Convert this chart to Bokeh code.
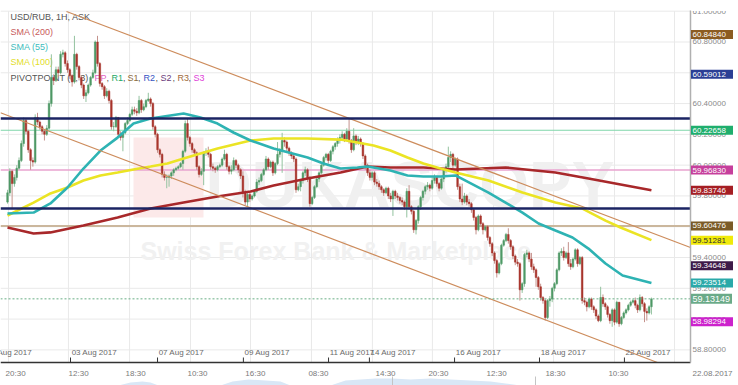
from bokeh.plotting import figure
from bokeh.models import Range1d, ColumnDataSource
from bokeh.core.properties import value
from bokeh.embed import file_html
from bokeh.resources import INLINE

FONT = "Liberation Sans"

# ---------------- candle data (USD/RUB hourly) ----------------
first_open = 59.76
closes = [
    59.82, 59.96, 59.88, 59.92, 59.98, 60.03, 60.14, 60.29, 60.22, 60.10,
    60.03, 60.02, 60.31, 60.28, 60.25, 60.22, 60.20, 60.24, 60.40, 60.57,
    60.55, 60.62, 60.60, 60.72, 60.73, 60.66, 60.62, 60.58, 60.54, 60.72,
    60.64, 60.57, 60.52, 60.45, 60.47, 60.52, 60.57, 60.60, 60.80, 60.66,
    60.53, 60.51, 60.45, 60.48, 60.42, 60.25, 60.25, 60.31, 60.20, 60.18,
    60.21, 60.27, 60.29, 60.33, 60.36, 60.35, 60.34, 60.42, 60.36, 60.38,
    60.42, 60.43, 60.40, 60.25, 60.20, 60.10, 60.07, 59.94, 59.92, 59.92,
    59.93, 59.95, 59.97, 59.98, 59.99, 60.01, 60.09, 60.27, 60.18, 60.14,
    60.10, 60.08, 59.99, 59.94, 59.96, 60.08, 60.09, 60.07, 59.99, 59.98,
    59.97, 59.99, 60.00, 60.04, 60.07, 59.99, 59.96,
    59.97, 60.03, 60.00, 59.97, 59.93, 59.82, 59.76, 59.81, 59.78, 59.80,
    59.83, 59.89, 59.90, 59.94, 59.97, 60.04, 59.99, 60.02, 59.95, 60.01,
    60.07, 60.09, 60.16, 60.15, 60.11, 60.08, 60.06, 60.04, 59.84, 59.86,
    59.90, 59.95, 59.97, 59.91, 59.75, 59.79, 59.86, 59.91, 59.95, 60.00,
    60.05, 60.07, 60.03, 60.09, 60.12, 60.14, 60.16, 60.18, 60.20, 60.17,
    60.22, 60.16, 60.10, 60.19, 60.15, 60.17, 60.14, 60.06, 60.00, 59.95,
    59.92, 59.95, 59.89, 59.88, 59.86, 59.84, 59.82, 59.85, 59.80, 59.78,
    59.83, 59.80, 59.79, 59.77, 59.76, 59.73, 59.83, 59.73, 59.70, 59.58,
    59.64, 59.73, 59.79, 59.83, 59.86, 59.87, 59.85, 59.90, 59.92, 59.88,
    59.85, 59.91, 59.97, 59.99, 60.05, 60.07, 60.00, 60.04, 59.86, 59.78,
    59.76, 59.80, 59.76, 59.75, 59.71, 59.66, 59.58, 59.67, 59.62, 59.58,
    59.60, 59.53, 59.49, 59.43, 59.38, 59.30, 59.36, 59.48, 59.51, 59.55,
    59.51, 59.47, 59.41, 59.37, 59.36, 59.19, 59.23, 59.42, 59.43, 59.39,
    59.34, 59.32, 59.27, 59.21, 59.14, 59.12, 59.01, 59.12, 59.13, 59.20,
    59.23, 59.32, 59.43, 59.44, 59.40, 59.43, 59.36, 59.34, 59.39, 59.45,
    59.36, 59.40, 59.12, 59.11, 59.08, 59.13, 59.08, 59.06, 59.02, 58.99,
    59.14, 59.10, 59.08, 59.03, 58.99, 59.06, 58.98, 59.11, 58.97, 59.01,
    59.04, 59.06, 59.09, 59.11, 59.12, 59.09, 59.06, 59.14, 59.10, 59.05,
    59.04, 59.08, 59.13,
]
highs = [
    59.84, 59.98, 59.97, 59.94, 60.00, 60.05, 60.16, 60.31, 60.30, 60.23,
    60.11, 60.05, 60.33, 60.34, 60.29, 60.26, 60.23, 60.26, 60.42, 60.72,
    60.59, 60.64, 60.64, 60.74, 60.75, 60.74, 60.68, 60.63, 60.59, 60.84,
    60.73, 60.65, 60.58, 60.53, 60.49, 60.53, 60.58, 60.62, 60.81, 60.84,
    60.67, 60.54, 60.52, 60.50, 60.49, 60.43, 60.28, 60.32, 60.31, 60.22,
    60.22, 60.28, 60.31, 60.34, 60.38, 60.38, 60.37, 60.45, 60.43, 60.40,
    60.43, 60.47, 60.44, 60.41, 60.26, 60.21, 60.11, 60.08, 59.96, 59.94,
    59.94, 59.96, 59.98, 59.99, 60.00, 60.02, 60.10, 60.29, 60.30, 60.19,
    60.15, 60.11, 60.09, 60.00, 59.98, 60.09, 60.11, 60.12, 60.08, 60.01,
    59.99, 60.00, 60.01, 60.05, 60.10, 60.08, 60.00,
    60.00, 60.05, 60.04, 60.01, 59.98, 59.96, 59.84, 59.82, 59.82, 59.81,
    59.84, 59.91, 59.92, 59.95, 59.98, 60.06, 60.05, 60.03, 60.03, 60.02,
    60.15, 60.11, 60.21, 60.18, 60.16, 60.12, 60.09, 60.07, 60.05, 59.88,
    59.91, 59.96, 59.99, 59.98, 59.93, 59.80, 59.87, 59.92, 59.96, 60.01,
    60.06, 60.08, 60.08, 60.10, 60.13, 60.15, 60.18, 60.20, 60.22, 60.21,
    60.24, 60.30, 60.17, 60.24, 60.20, 60.19, 60.18, 60.15, 60.07, 60.01,
    59.97, 59.96, 59.96, 59.91, 59.90, 59.87, 59.85, 59.86, 59.86, 59.82,
    59.84, 59.84, 59.82, 59.80, 59.79, 59.77, 59.85, 59.87, 59.74, 59.71,
    59.65, 59.74, 59.80, 59.84, 59.87, 59.89, 59.88, 59.92, 59.94, 59.93,
    59.89, 59.92, 59.98, 60.01, 60.12, 60.09, 60.08, 60.05, 60.05, 59.88,
    59.88, 59.82, 59.81, 59.78, 59.76, 59.72, 59.67, 59.68, 59.68, 59.63,
    59.61, 59.61, 59.54, 59.50, 59.44, 59.39, 59.37, 59.49, 59.52, 59.56,
    59.59, 59.52, 59.48, 59.42, 59.39, 59.37, 59.24, 59.43, 59.45, 59.44,
    59.43, 59.36, 59.33, 59.28, 59.23, 59.15, 59.13, 59.13, 59.15, 59.21,
    59.24, 59.33, 59.44, 59.46, 59.47, 59.44, 59.50, 59.39, 59.40, 59.46,
    59.46, 59.41, 59.41, 59.14, 59.12, 59.14, 59.14, 59.09, 59.07, 59.03,
    59.21, 59.16, 59.11, 59.09, 59.04, 59.07, 59.07, 59.12, 59.11, 59.02,
    59.05, 59.07, 59.10, 59.12, 59.13, 59.14, 59.10, 59.16, 59.15, 59.11,
    59.07, 59.09, 59.14,
]
lows = [
    59.75, 59.80, 59.72, 59.86, 59.90, 59.97, 60.02, 60.12, 60.20, 60.08,
    59.97, 59.99, 60.01, 60.26, 60.23, 60.20, 60.16, 60.19, 60.23, 60.38,
    60.52, 60.54, 60.57, 60.59, 60.70, 60.64, 60.60, 60.56, 60.51, 60.53,
    60.62, 60.55, 60.50, 60.43, 60.41, 60.46, 60.51, 60.56, 60.59, 60.64,
    60.51, 60.49, 60.43, 60.44, 60.40, 60.23, 60.22, 60.24, 60.18, 60.16,
    60.09, 60.20, 60.26, 60.28, 60.32, 60.33, 60.32, 60.33, 60.34, 60.35,
    60.37, 60.41, 60.38, 60.23, 60.18, 60.08, 60.05, 59.92, 59.90, 59.85,
    59.86, 59.91, 59.93, 59.96, 59.97, 59.98, 59.97, 60.08, 60.16, 60.12,
    60.08, 60.06, 59.97, 59.92, 59.93, 59.87, 60.06, 60.05, 59.97, 59.96,
    59.95, 59.96, 59.98, 59.99, 60.03, 59.97, 59.94,
    59.94, 59.96, 59.98, 59.95, 59.91, 59.79, 59.74, 59.73, 59.76, 59.77,
    59.79, 59.82, 59.87, 59.89, 59.93, 59.96, 59.97, 59.98, 59.93, 59.94,
    60.00, 60.05, 59.95, 60.12, 60.09, 60.06, 60.04, 60.02, 59.82, 59.83,
    59.83, 59.88, 59.93, 59.89, 59.73, 59.74, 59.78, 59.85, 59.89, 59.94,
    59.99, 60.03, 60.01, 60.02, 60.07, 60.10, 60.12, 60.14, 60.16, 60.15,
    60.16, 60.14, 60.08, 60.09, 60.13, 60.13, 60.12, 60.04, 59.97, 59.93,
    59.90, 59.90, 59.87, 59.86, 59.84, 59.82, 59.80, 59.81, 59.78, 59.76,
    59.67, 59.78, 59.77, 59.75, 59.74, 59.71, 59.66, 59.71, 59.68, 59.56,
    59.55, 59.62, 59.71, 59.77, 59.81, 59.84, 59.83, 59.84, 59.88, 59.86,
    59.83, 59.84, 59.89, 59.95, 59.97, 60.02, 59.98, 59.99, 59.84, 59.76,
    59.74, 59.75, 59.74, 59.73, 59.69, 59.64, 59.55, 59.57, 59.60, 59.55,
    59.57, 59.51, 59.47, 59.41, 59.36, 59.27, 59.29, 59.35, 59.47, 59.50,
    59.49, 59.45, 59.39, 59.35, 59.34, 59.12, 59.17, 59.21, 59.40, 59.37,
    59.32, 59.30, 59.21, 59.19, 59.12, 59.10, 58.99, 59.00, 59.08, 59.11,
    59.18, 59.22, 59.31, 59.41, 59.38, 59.39, 59.34, 59.32, 59.33, 59.38,
    59.34, 59.35, 59.10, 59.09, 59.05, 59.07, 59.06, 59.04, 59.00, 58.98,
    58.98, 59.08, 59.06, 59.01, 58.97, 58.95, 58.96, 58.97, 58.95, 58.96,
    59.00, 59.03, 59.05, 59.08, 59.10, 59.07, 59.04, 59.05, 59.08, 58.98,
    58.99, 59.03, 59.03,
]

# ---------------- indicators ----------------
sma200_x = [0, 11.3, 18.6, 32.9, 47.7, 62.0, 76.3, 91.0, 105.3, 115.3, 130.0,
            144.3, 156.0, 165.9, 180.2, 194.1, 215.8, 237.4, 251.7, 279]
sma200_y = [59.595, 59.556, 59.563, 59.608, 59.660, 59.718, 59.757, 59.796,
            59.829, 59.868, 59.913, 59.952, 59.991, 59.985, 59.985, 59.972,
            59.985, 59.952, 59.913, 59.837]
sma55_x = [0, 11.3, 18.6, 26.0, 32.9, 40.3, 47.7, 54.6, 62.0, 76.3, 83.6, 91.0,
           97.9, 105.3, 115.3, 130.0, 136.9, 144.3, 151.6, 156.0, 165.9, 173.3,
           180.2, 187.6, 194.1, 208.4, 215.8, 223.1, 230.1, 237.4, 244.8, 251.7,
           259.1, 266.5, 279]
sma55_y = [59.686, 59.692, 59.751, 59.855, 59.978, 60.095, 60.179, 60.270,
           60.303, 60.335, 60.309, 60.270, 60.212, 60.160, 60.108, 60.050,
           60.011, 59.978, 59.985, 59.991, 59.965, 59.933, 59.926, 59.926,
           59.933, 59.822, 59.757, 59.692, 59.621, 59.575, 59.530, 59.458,
           59.361, 59.283, 59.235]
sma100_x = [0, 11.3, 18.6, 26.0, 32.9, 40.3, 47.7, 54.6, 62.0, 69.3, 76.3, 83.6,
            91.0, 105.3, 115.3, 130.0, 144.3, 151.6, 158.6, 165.9, 173.3, 180.2,
            187.6, 194.1, 208.4, 223.1, 237.4, 249.1, 259.1, 265.6, 279]
sma100_y = [59.673, 59.757, 59.816, 59.855, 59.900, 59.933, 59.952, 59.972,
            59.991, 60.011, 60.043, 60.076, 60.108, 60.160, 60.173, 60.173,
            60.166, 60.147, 60.127, 60.095, 60.050, 60.011, 59.978, 59.952,
            59.900, 59.822, 59.757, 59.718, 59.640, 59.595, 59.513]

# pivot levels and last values
pivot_pp, pivot_r1, pivot_s1 = 59.96830, 60.22658, 59.60476
pivot_r2, pivot_s2, pivot_r3, pivot_s3 = 60.59012, 59.34648, 60.84840, 58.98294
sma200_last, sma55_last, sma100_last = 59.83746, 59.23514, 59.51281
last_price = 59.13149

# hand-drawn analysis lines
navy_levels = [60.303, 59.718]
upper_x, upper_y = [25.56, 295.93], [60.998, 59.465]
lower_x, lower_y = [-3.03, 281.6], [60.340, 58.718]

# axes
price_ticks = [58.8, 59.0, 59.2, 59.4, 59.6, 59.8, 60.0, 60.2, 60.4, 60.6, 60.8, 61.0]
grid_x = [0.43, 26.4, 52.9, 79.3, 105.3, 131.7, 158.1, 184.1, 210.6, 236.6, 263.0, 289.0]
time_ticks = [3.5, 30.8, 55.5, 82.3, 107.4, 134.7, 163.8, 186.7, 211.9, 237.4, 264.7]
time_labels = ["20:30", "12:30", "18:30", "10:30", "16:30", "08:30", "14:30",
               "20:30", "12:30", "18:30", "10:30"]
date_ticks = [-9.5, 27.3, 65.0, 102.2, 139.1, 156.8, 193.7, 230.5, 267.3]
date_labels = ["01 Aug 2017", "03 Aug 2017", "07 Aug 2017", "09 Aug 2017",
               "11 Aug 2017", "14 Aug 2017", "16 Aug 2017", "18 Aug 2017",
               "22 Aug 2017"]
scale_date = "22.08.2017"

# ---------------- layout helpers (pixel -> plot coordinates) ----------------
PX = 2.308                       # pixels per candle slot
YPX = 0.0064958                  # price per pixel


def xpx(px):
    return (px - 7) / PX


def ypx(py):
    return 61.0695 - py * YPX


X0, X1 = xpx(0), xpx(738)
Y0, Y1 = ypx(385), ypx(0)
AX = xpx(690)                    # price scale line
AY = ypx(362)                    # time axis line
GT = ypx(10.7)                   # top of the chart area

n = min(len(closes), len(highs), len(lows))
opens = [first_open] + closes[:n - 1]
idx = list(range(n))
inc = [i for i in idx if closes[i] >= opens[i]]
dec = [i for i in idx if closes[i] < opens[i]]


def src(sel):
    return ColumnDataSource(dict(
        x=[i for i in sel],
        top=[max(opens[i], closes[i]) for i in sel],
        bottom=[min(opens[i], closes[i]) for i in sel],
        hi=[highs[i] for i in sel],
        lo=[lows[i] for i in sel],
    ))


p = figure(width=738, height=385, output_backend="svg", toolbar_location=None,
           x_range=Range1d(X0, X1), y_range=Range1d(Y0, Y1),
           x_axis_location=None, y_axis_location=None,
           min_border_left=0, min_border_right=0, min_border_top=0, min_border_bottom=0,
           background_fill_color="white", border_fill_color="white",
           outline_line_color=None)
p.xgrid.visible = False
p.ygrid.visible = False


def txt(xs, ys, texts, size, color, align="left", baseline="middle", style="normal"):
    p.text(x=xs, y=ys, text=texts, text_font=value(FONT), text_font_size=value(size),
           text_color=color, text_align=align, text_baseline=baseline,
           text_font_style=style)


# navigator strip at the bottom
nav_px = [118, 130, 142, 150, 158, 220, 232, 248, 265, 280, 290, 330, 345, 360,
          375, 392, 410, 430, 450, 470, 490, 505, 520]
nav_top = [385, 382, 381, 382, 385, 385, 381, 379, 380, 381, 385, 385, 380, 379,
           378, 378, 379, 378, 379, 380, 381, 383, 385]
p.varea(x=[xpx(v) for v in nav_px], y1=[Y0] * len(nav_px), y2=[ypx(v) for v in nav_top],
        fill_color="#d9e7f6")
p.segment(x0=[xpx(392), xpx(535)], x1=[xpx(392), xpx(535)], y0=[Y0, Y0],
          y1=[ypx(376), ypx(376)], line_color="#c4c4c4", line_width=1)

# grid (inside the chart area)
p.segment(x0=[X0] * len(price_ticks), x1=[AX] * len(price_ticks), y0=price_ticks,
          y1=price_ticks, line_color="#e9e9e9", line_width=1)
p.segment(x0=grid_x, x1=grid_x, y0=[AY] * len(grid_x), y1=[GT] * len(grid_x),
          line_color="#e9e9e9", line_width=1)

# watermark
p.quad(left=[xpx(133)], right=[xpx(203)], top=[ypx(137)], bottom=[ypx(217)],
       fill_color="#fce9e9", line_color=None)
txt([xpx(205)], [ypx(184)], ["DUKASCOPY"], "64px", "#f0f0f0", style="bold")
txt([xpx(140)], [ypx(250)], ["Swiss Forex Bank & Marketplace"], "25px", "#f1f1f1",
    style="bold")

# legend texts (under the candles)
legend = [("USD/RUB, 1H, ASK", "#555555", 16), ("SMA (200)", "#c85b5b", 31.5),
          ("SMA (55)", "#3cbcbc", 46.5), ("SMA (100)", "#e2dd2a", 61.5),
          ("PIVOTPOINT (0, 3)", "#555555", 77)]
for t, col, yy in legend:
    txt([xpx(10)], [ypx(yy)], [t], "9px", col)
pivot_tokens = [("PP", "#e062c4", 94), (",", "#555555", 106), ("R1", "#22a866", 111),
                (",", "#555555", 122.5), ("S1", "#8a6a3a", 127), (",", "#555555", 137.5),
                ("R2", "#3553c2", 143), (",", "#555555", 155), ("S2", "#6a3a7a", 160),
                (",", "#555555", 172), ("R3", "#a06a3a", 177), (",", "#555555", 188),
                ("S3", "#e040d8", 193)]
for t, col, xs in pivot_tokens:
    txt([xpx(xs)], [ypx(77)], [t], "9px", col)

# pivot lines (under candles)
for lvl, col, w in [(pivot_r1, "#7fd6aa", 1.2), (pivot_pp, "#e8a3cf", 1.5),
                    (pivot_s1, "#cbb79d", 2)]:
    p.segment(x0=[X0], x1=[AX], y0=[lvl], y1=[lvl], line_color=col, line_width=w)

# candles
s_inc, s_dec = src(inc), src(dec)
p.segment(x0="x", y0="lo", x1="x", y1="hi", source=s_inc, line_color="#93c29f", line_width=1)
p.segment(x0="x", y0="lo", x1="x", y1="hi", source=s_dec, line_color="#c4928c", line_width=1)
p.vbar(x="x", width=0.72, top="top", bottom="bottom", source=s_inc,
       fill_color="#4f9966", line_color="#4f9966", line_width=0.5)
p.vbar(x="x", width=0.72, top="top", bottom="bottom", source=s_dec,
       fill_color="#a8352c", line_color="#a8352c", line_width=0.5)

# moving averages
p.line(sma200_x, sma200_y, line_color="#a8282a", line_width=2.6)
p.line(sma100_x, sma100_y, line_color="#ebe424", line_width=2.6)
p.line(sma55_x, sma55_y, line_color="#2eb3b3", line_width=2.6)

# trend channel
p.line(upper_x, upper_y, line_color="#cd8c5c", line_width=1.2)
p.line(lower_x, lower_y, line_color="#cd8c5c", line_width=1.2)

# horizontal levels
for lvl in navy_levels:
    p.segment(x0=[X0], x1=[AX], y0=[lvl], y1=[lvl], line_color="#1b2463", line_width=2.6)
p.segment(x0=[X0], x1=[AX], y0=[last_price], y1=[last_price], line_color="#6aae86",
          line_width=1, line_dash="2 2")

# axis lines
p.segment(x0=[X0], x1=[AX], y0=[AY], y1=[AY], line_color="#333333", line_width=1.5)
p.segment(x0=[AX], x1=[AX], y0=[AY], y1=[ypx(10)], line_color="#b0b0b0", line_width=1.5)

# date ticks and labels (above the axis line) and time labels (below it)
p.segment(x0=date_ticks, x1=date_ticks, y0=[AY] * len(date_ticks),
          y1=[ypx(357)] * len(date_ticks), line_color="#333333", line_width=1)
txt([d + 0.5 for d in date_ticks], [ypx(356.5)] * len(date_ticks), date_labels,
    "8px", "#6a6a6a", baseline="bottom")
txt(time_ticks, [ypx(373)] * len(time_ticks), time_labels, "8px", "#7a7a7a",
    align="center")
txt([xpx(692)], [ypx(373)], [scale_date], "8px", "#7a7a7a")

# price scale labels
txt([xpx(692)] * len(price_ticks), price_ticks, ["%.5f" % t for t in price_ticks],
    "8px", "#8a8a8a")
p.quad(left=[xpx(691)], right=[X1], top=[Y1], bottom=[ypx(10.5)],
       fill_color="white", line_color=None)

# coloured price tags on the price scale
tag_vals = [pivot_r3, pivot_r2, pivot_r1, pivot_pp, sma200_last, pivot_s1,
            sma100_last, pivot_s2, sma55_last, pivot_s3]
tag_bg = ["#8c5c21", "#2b3f95", "#1fae6d", "#c63f9c", "#a51e24", "#7b5b27",
          "#f0ea0a", "#3e1a48", "#2aa9a9", "#cc22cc"]
tag_fg = ["white", "white", "white", "white", "white", "white",
          "#333333", "white", "white", "white"]
p.rect(x=[xpx(711.5)] * len(tag_vals), y=tag_vals, width=42, height=9,
       width_units="screen", height_units="screen", fill_color=tag_bg, line_color=None)
p.text(x=[xpx(692)] * len(tag_vals), y=tag_vals, text=["%.5f" % v for v in tag_vals],
       text_font=value(FONT), text_font_size=value("8px"), text_color=tag_fg,
       text_baseline="middle", text_align="left")
p.rect(x=[xpx(711)], y=[last_price], width=41, height=10, width_units="screen",
       height_units="screen", fill_color="#6aaa88", line_color=None)
txt([xpx(692)], [last_price], ["%.5f" % last_price], "9px", "white")

open("out.html", "w").write(file_html(p, INLINE))
